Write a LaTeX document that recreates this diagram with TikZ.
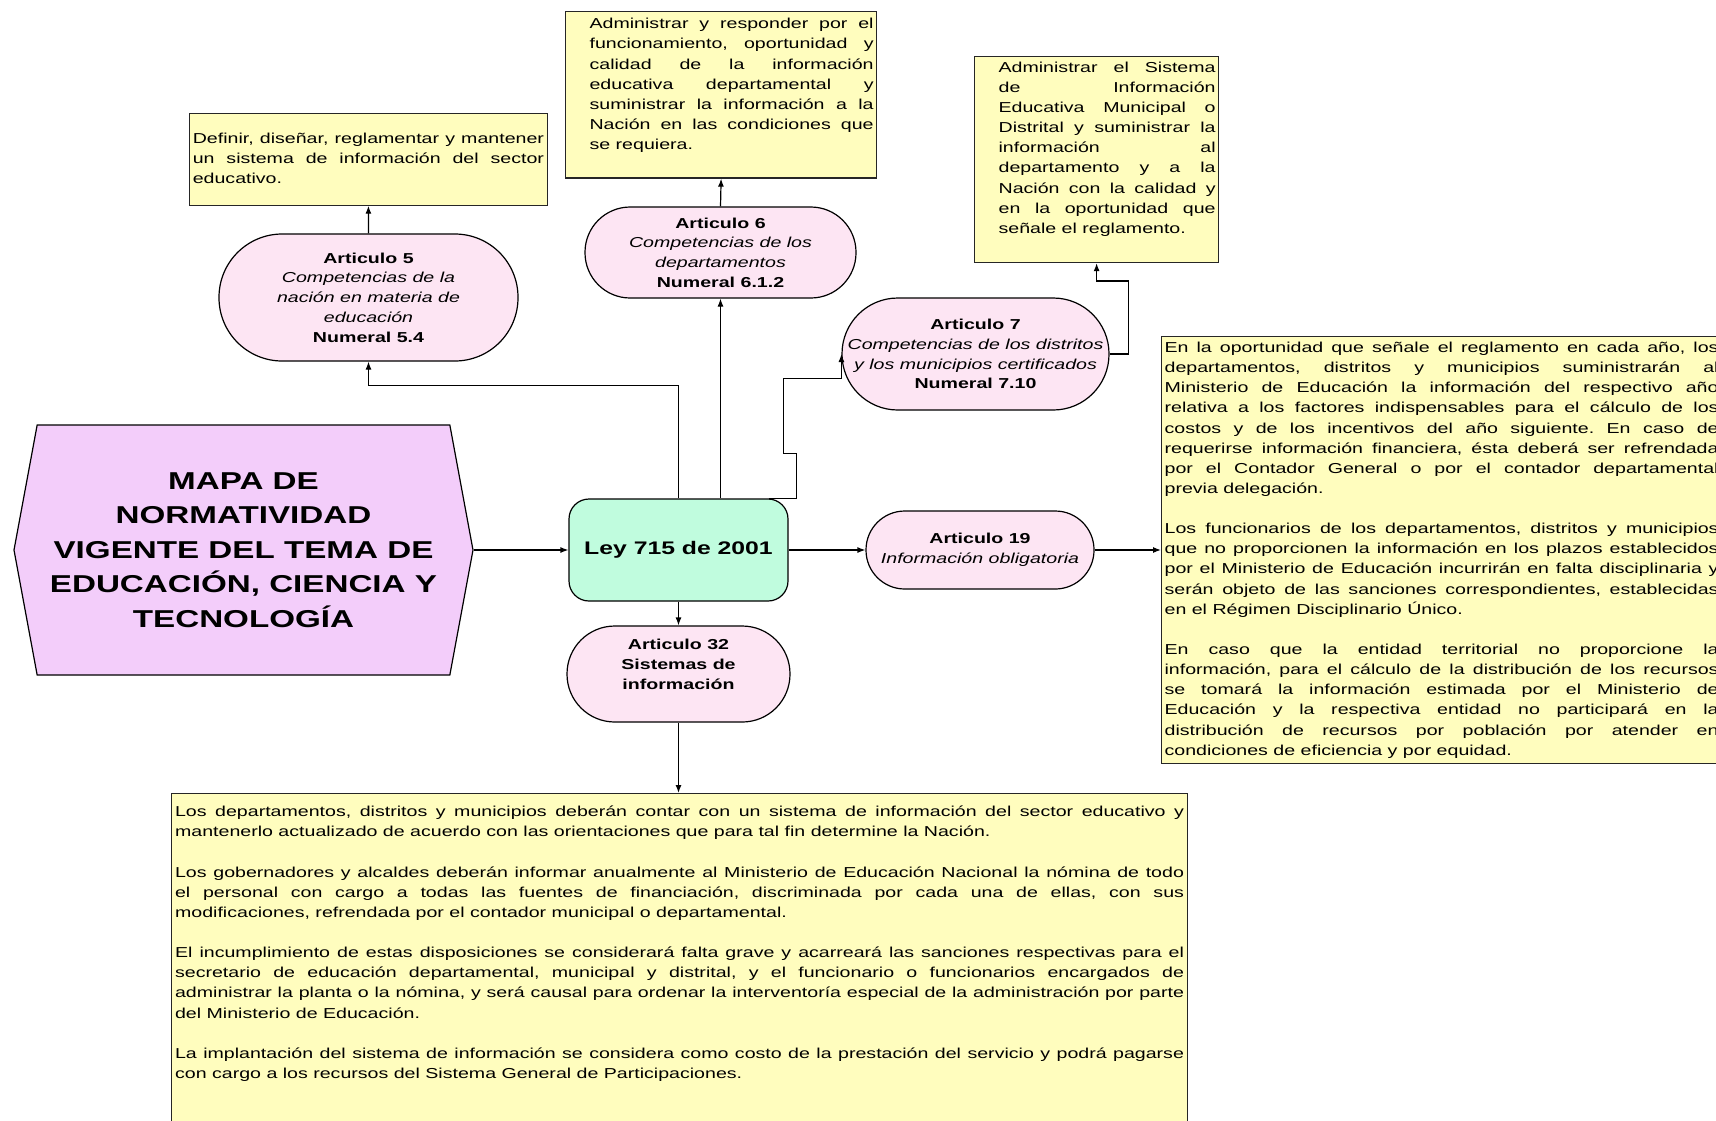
\documentclass[tikz,border=0pt]{standalone}
\usepackage{fontspec}
\setmainfont{Liberation Sans}[FakeStretch=1.36]
\usetikzlibrary{arrows.meta,shapes.symbols}
\definecolor{titlefill}{RGB}{243,205,250}
\definecolor{leyfill}{RGB}{192,252,222}
\definecolor{artfill}{RGB}{253,229,243}
\definecolor{notefill}{RGB}{255,253,190}
\newcommand{\blankrow}{\par\vspace{\baselineskip}}
\newcommand{\tailgap}[1]{\rule[-#1]{0pt}{1pt}\par}
\setlength{\parindent}{0pt}
\frenchspacing
\hyphenpenalty=10000
\hbadness=10000

\begin{document}
\begin{tikzpicture}[x=0.5pt,y=-0.5pt,
    note/.style={draw=black!85, fill=notefill, line width=0.6pt, anchor=north west,
        inner xsep=1.6pt, align=justify, font=\fontsize{7.2}{10.07}\selectfont},
    art/.style={draw, fill=artfill, line width=0.6pt, align=center, inner sep=0pt,
        font=\fontsize{7.2}{9.85}\selectfont},
    arr/.style={-{Latex[length=4pt,width=3pt]}, line width=0.6pt}]
    \fill[white] (0,0) rectangle (1716,1120);
    \useasboundingbox (0,0) rectangle (1716,1120);

    % main nodes
    \node[draw, fill=titlefill, line width=0.6pt, signal, signal to=east and west,
        signal pointer angle=159, minimum width=229.5pt, minimum height=125pt,
        inner sep=0pt, align=center, font=\bfseries\fontsize{12.2}{17.25}\selectfont]
        (title) at (243.5,550) {MAPA DE\\NORMATIVIDAD\\VIGENTE DEL TEMA DE\\EDUCACIÓN, CIENCIA Y\\TECNOLOGÍA};
    \node[draw, fill=leyfill, line width=0.6pt, rounded corners=10pt, minimum width=109.5pt,
        minimum height=51pt, font=\bfseries\fontsize{9.1}{11}\selectfont]
        (ley) at (678.5,550) {Ley 715 de 2001};

    % articulos
    \node[art, rounded corners=31.6pt, minimum width=149.5pt, minimum height=63.5pt] (a5) at (368.5,297.5)
        {\textbf{Articulo 5}\\\textit{Competencias de la}\\\textit{nación en materia de}\\\textit{educación}\\\textbf{Numeral 5.4}};
    \node[art, rounded corners=22.6pt, minimum width=135.5pt, minimum height=45.5pt] (a6) at (720.5,252.5)
        {\textbf{Articulo 6}\\\textit{Competencias de los}\\\textit{departamentos}\\\textbf{Numeral 6.1.2}};
    \node[art, rounded corners=27.9pt, minimum width=133.5pt, minimum height=56pt] (a7) at (975.5,354)
        {\textbf{Articulo 7}\\\textit{Competencias de los distritos}\\\textit{y los municipios certificados}\\\textbf{Numeral 7.10}};
    \node[art, rounded corners=19.4pt, minimum width=114pt, minimum height=39pt] (a19) at (980,550)
        {\textbf{Articulo 19}\\\textit{Información obligatoria}};
    \node[art, rounded corners=23.9pt, minimum width=111.5pt, minimum height=48pt,
        font=\fontsize{7.2}{9.85}\selectfont\bfseries] (a32) at (678.5,674)
        {Articulo 32\\Sistemas de\\información\\\mbox{}};

    % notas
    \node[note, inner ysep=9.8pt, text width=175.6pt] (b5) at (189,113)
        {Definir, diseñar, reglamentar y mantener\linebreak un sistema de información del sector\linebreak educativo.\tailgap{0.8pt}};
    \node[note, inner xsep=1.5pt, inner ysep=3.4pt, text width=152.5pt] (b6) at (565,11)
        {\leftskip=10.5pt Administrar y responder por el\linebreak funcionamiento, oportunidad y\linebreak calidad de la información\linebreak educativa departamental y\linebreak suministrar la información a la\linebreak Nación en las condiciones que\linebreak se requiera.\tailgap{10.8pt}};
    \node[note, inner xsep=1.5pt, inner ysep=2.6pt, text width=119pt] (b7) at (974,56)
        {\leftskip=10.5pt Administrar el Sistema\linebreak de Información\linebreak Educativa Municipal o\linebreak Distrital y suministrar la\linebreak información al\linebreak departamento y a la\linebreak Nación con la calidad y\linebreak en la oportunidad que\linebreak señale el reglamento.\tailgap{12pt}};
    \node[note, inner xsep=1.5pt, inner ysep=2.7pt, text width=277pt] (b19) at (1161,336)
        {En la oportunidad que señale el reglamento en cada año, los\linebreak departamentos, distritos y municipios suministrarán al\linebreak Ministerio de Educación la información del respectivo año\linebreak relativa a los factores indispensables para el cálculo de los\linebreak costos y de los incentivos del año siguiente. En caso de\linebreak requerirse información financiera, ésta deberá ser refrendada\linebreak por el Contador General o por el contador departamental\linebreak previa delegación.\blankrow
        Los funcionarios de los departamentos, distritos y municipios\linebreak que no proporcionen la información en los plazos establecidos\linebreak por el Ministerio de Educación incurrirán en falta disciplinaria y\linebreak serán objeto de las sanciones correspondientes, establecidas\linebreak en el Régimen Disciplinario Único.\blankrow
        En caso que la entidad territorial no proporcione la\linebreak información, para el cálculo de la distribución de los recursos\linebreak se tomará la información estimada por el Ministerio de\linebreak Educación y la respectiva entidad no participará en la\linebreak distribución de recursos por población por atender en\linebreak condiciones de eficiencia y por equidad.};
    \node[note, inner xsep=1.75pt, inner ysep=6.2pt, text width=504.5pt] (b32) at (171,793)
        {Los departamentos, distritos y municipios deberán contar con un sistema de información del sector educativo y\linebreak mantenerlo actualizado de acuerdo con las orientaciones que para tal fin determine la Nación.\blankrow
        Los gobernadores y alcaldes deberán informar anualmente al Ministerio de Educación Nacional la nómina de todo\linebreak el personal con cargo a todas las fuentes de financiación, discriminada por cada una de ellas, con sus\linebreak modificaciones, refrendada por el contador municipal o departamental.\blankrow
        El incumplimiento de estas disposiciones se considerará falta grave y acarreará las sanciones respectivas para el\linebreak secretario de educación departamental, municipal y distrital, y el funcionario o funcionarios encargados de\linebreak administrar la planta o la nómina, y será causal para ordenar la interventoría especial de la administración por parte\linebreak del Ministerio de Educación.\blankrow
        La implantación del sistema de información se considera como costo de la prestación del servicio y podrá pagarse\linebreak con cargo a los recursos del Sistema General de Participaciones.\tailgap{60pt}};

    % conectores
    \draw[arr] (title.east) -- (ley.west);
    \draw[arr] (ley.east) -- (a19.west);
    \draw[arr] (a19.east) -- (b19.west |- a19.east);
    \draw[arr] (ley.south) -- (a32.north);
    \draw[arr] (a32.south) -- (b32.north -| a32.south);
    \draw[arr] (ley.north) -- ++(0,-113) -| (a5.south);
    \draw[arr] (a6.south |- ley.north) -- (a6.south);
    \draw[arr] ([xshift=-10pt]ley.north east) -- ++(28,0) -- ++(0,-45) -- ++(-13,0) -- ++(0,-75) -| (a7.west); % rodeo
    \draw[arr] (a5.north) -- (b5.south);
    \draw[arr] (a6.north) -- (b6.south);
    \draw[arr] (a7.east) -| ++(19,-73) -| (b7.south);
\end{tikzpicture}
\end{document}
